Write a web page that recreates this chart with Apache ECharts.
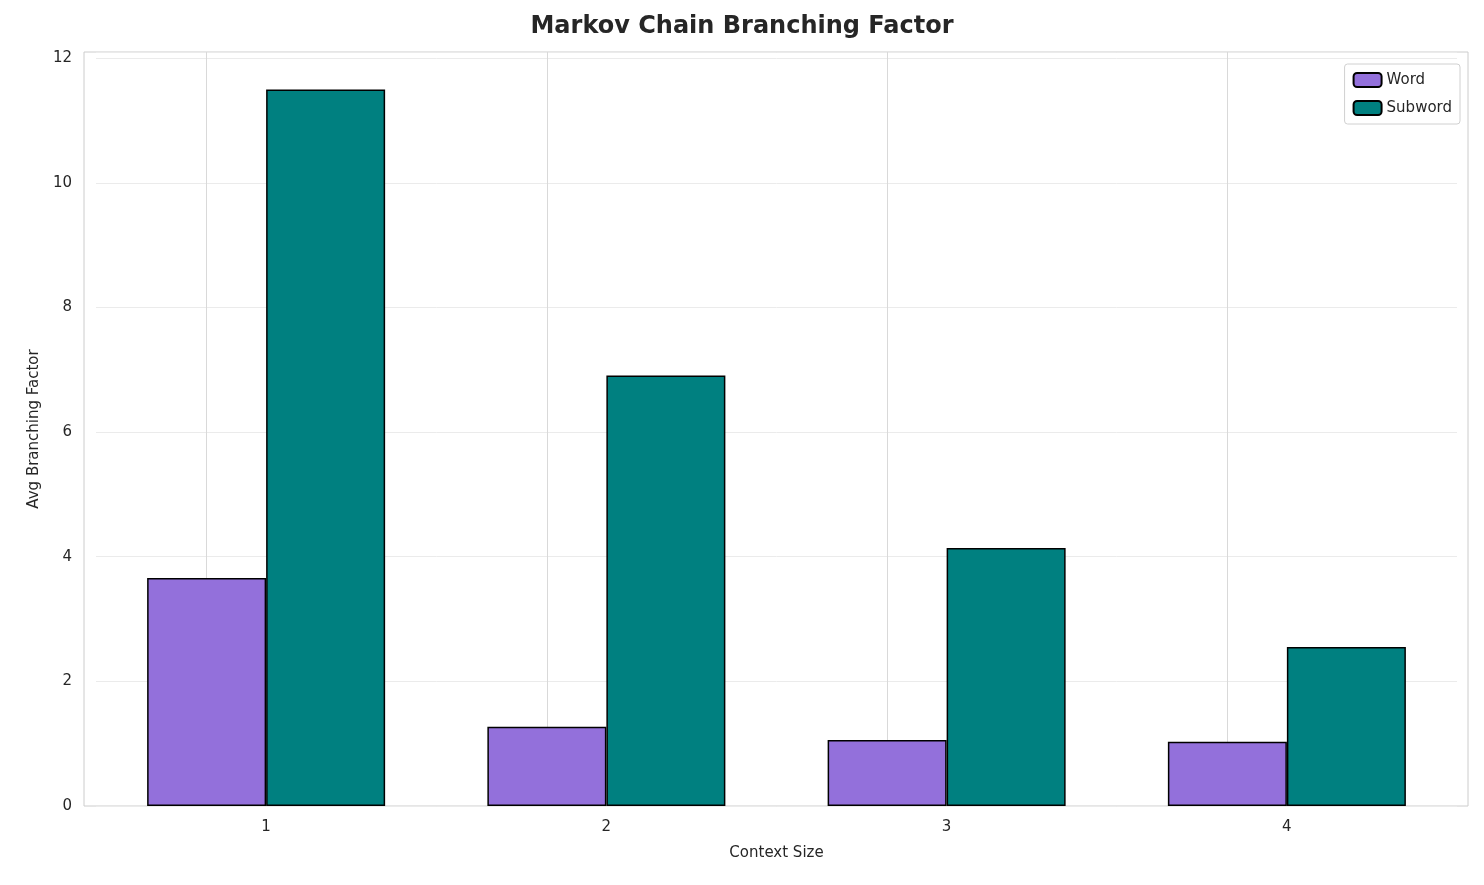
<!DOCTYPE html>
<html><head><meta charset="utf-8">
<script src="https://cdn.jsdelivr.net/npm/echarts@6/dist/echarts.min.js"></script>
<style>html,body{margin:0;padding:0;background:#fff}#c{width:1484px;height:885px}</style>
</head><body><div id="c"></div>
<script>
const categories = ['1', '2', '3', '4'];
const wordValues = [3.66, 1.27, 1.06, 1.03];
const subwordValues = [11.50, 6.91, 4.14, 2.55];
const yTicks = [0, 2, 4, 6, 8, 10, 12];

const chart = echarts.init(document.getElementById('c'));
const font = 'DejaVu Sans';
chart.setOption({
  animation: false,
  textStyle: { fontFamily: font },
  title: { text: 'Markov Chain Branching Factor', left: 'center', top: 10,
    textStyle: { fontFamily: font, fontSize: 24, fontWeight: 'bold', color: '#262626' } },
  graphic: [{ type: 'rect', shape: { x: 84, y: 52, width: 1384, height: 754 }, silent: true, z: -1,
    style: { fill: 'none', stroke: '#cccccc', lineWidth: 1 } }],
  legend: {
    right: 24, top: 64, orient: 'vertical', itemWidth: 28, itemHeight: 14, itemGap: 12,
    padding: [8, 8, 8, 8], borderColor: '#d0d0d0', borderWidth: 1, borderRadius: 3,
    textStyle: { fontFamily: font, fontSize: 15, color: '#262626' },
    data: ['Word', 'Subword']
  },
  grid: { left: 96, right: 27, top: 52, bottom: 79 },
  xAxis: { type: 'category', data: categories, name: 'Context Size', nameLocation: 'middle', nameGap: 40,
    nameTextStyle: { fontSize: 15, color: '#262626' },
    axisLine: { show: false }, axisTick: { show: false },
    axisLabel: { fontSize: 15, color: '#262626', margin: 14 }, splitLine: { show: false } },
  yAxis: { type: 'value', min: 0, max: 12.1, interval: 2, name: 'Avg Branching Factor', nameLocation: 'middle', nameGap: 52,
    nameTextStyle: { fontSize: 15, color: '#262626' },
    axisLine: { show: false }, axisTick: { show: false },
    axisLabel: { fontSize: 15, color: '#262626', margin: 24,
      formatter: v => yTicks.includes(v) ? String(v) : '' },
    splitLine: { lineStyle: { color: '#ebebeb' } } },
  series: [
    { name: 'Word', type: 'bar', data: wordValues, barWidth: 119, barGap: '0%',
      itemStyle: { color: '#9370db', borderColor: '#000', borderWidth: 1.5 },
      markLine: { silent: true, symbol: 'none', label: { show: false }, z: 0,
        lineStyle: { color: '#d9d9d9', type: 'solid', width: 1 },
        data: categories.map(c => ({ xAxis: c })) } },
    { name: 'Subword', type: 'bar', data: subwordValues, barWidth: 119,
      itemStyle: { color: '#008080', borderColor: '#000', borderWidth: 1.5 } }
  ]
});
</script></body></html>
